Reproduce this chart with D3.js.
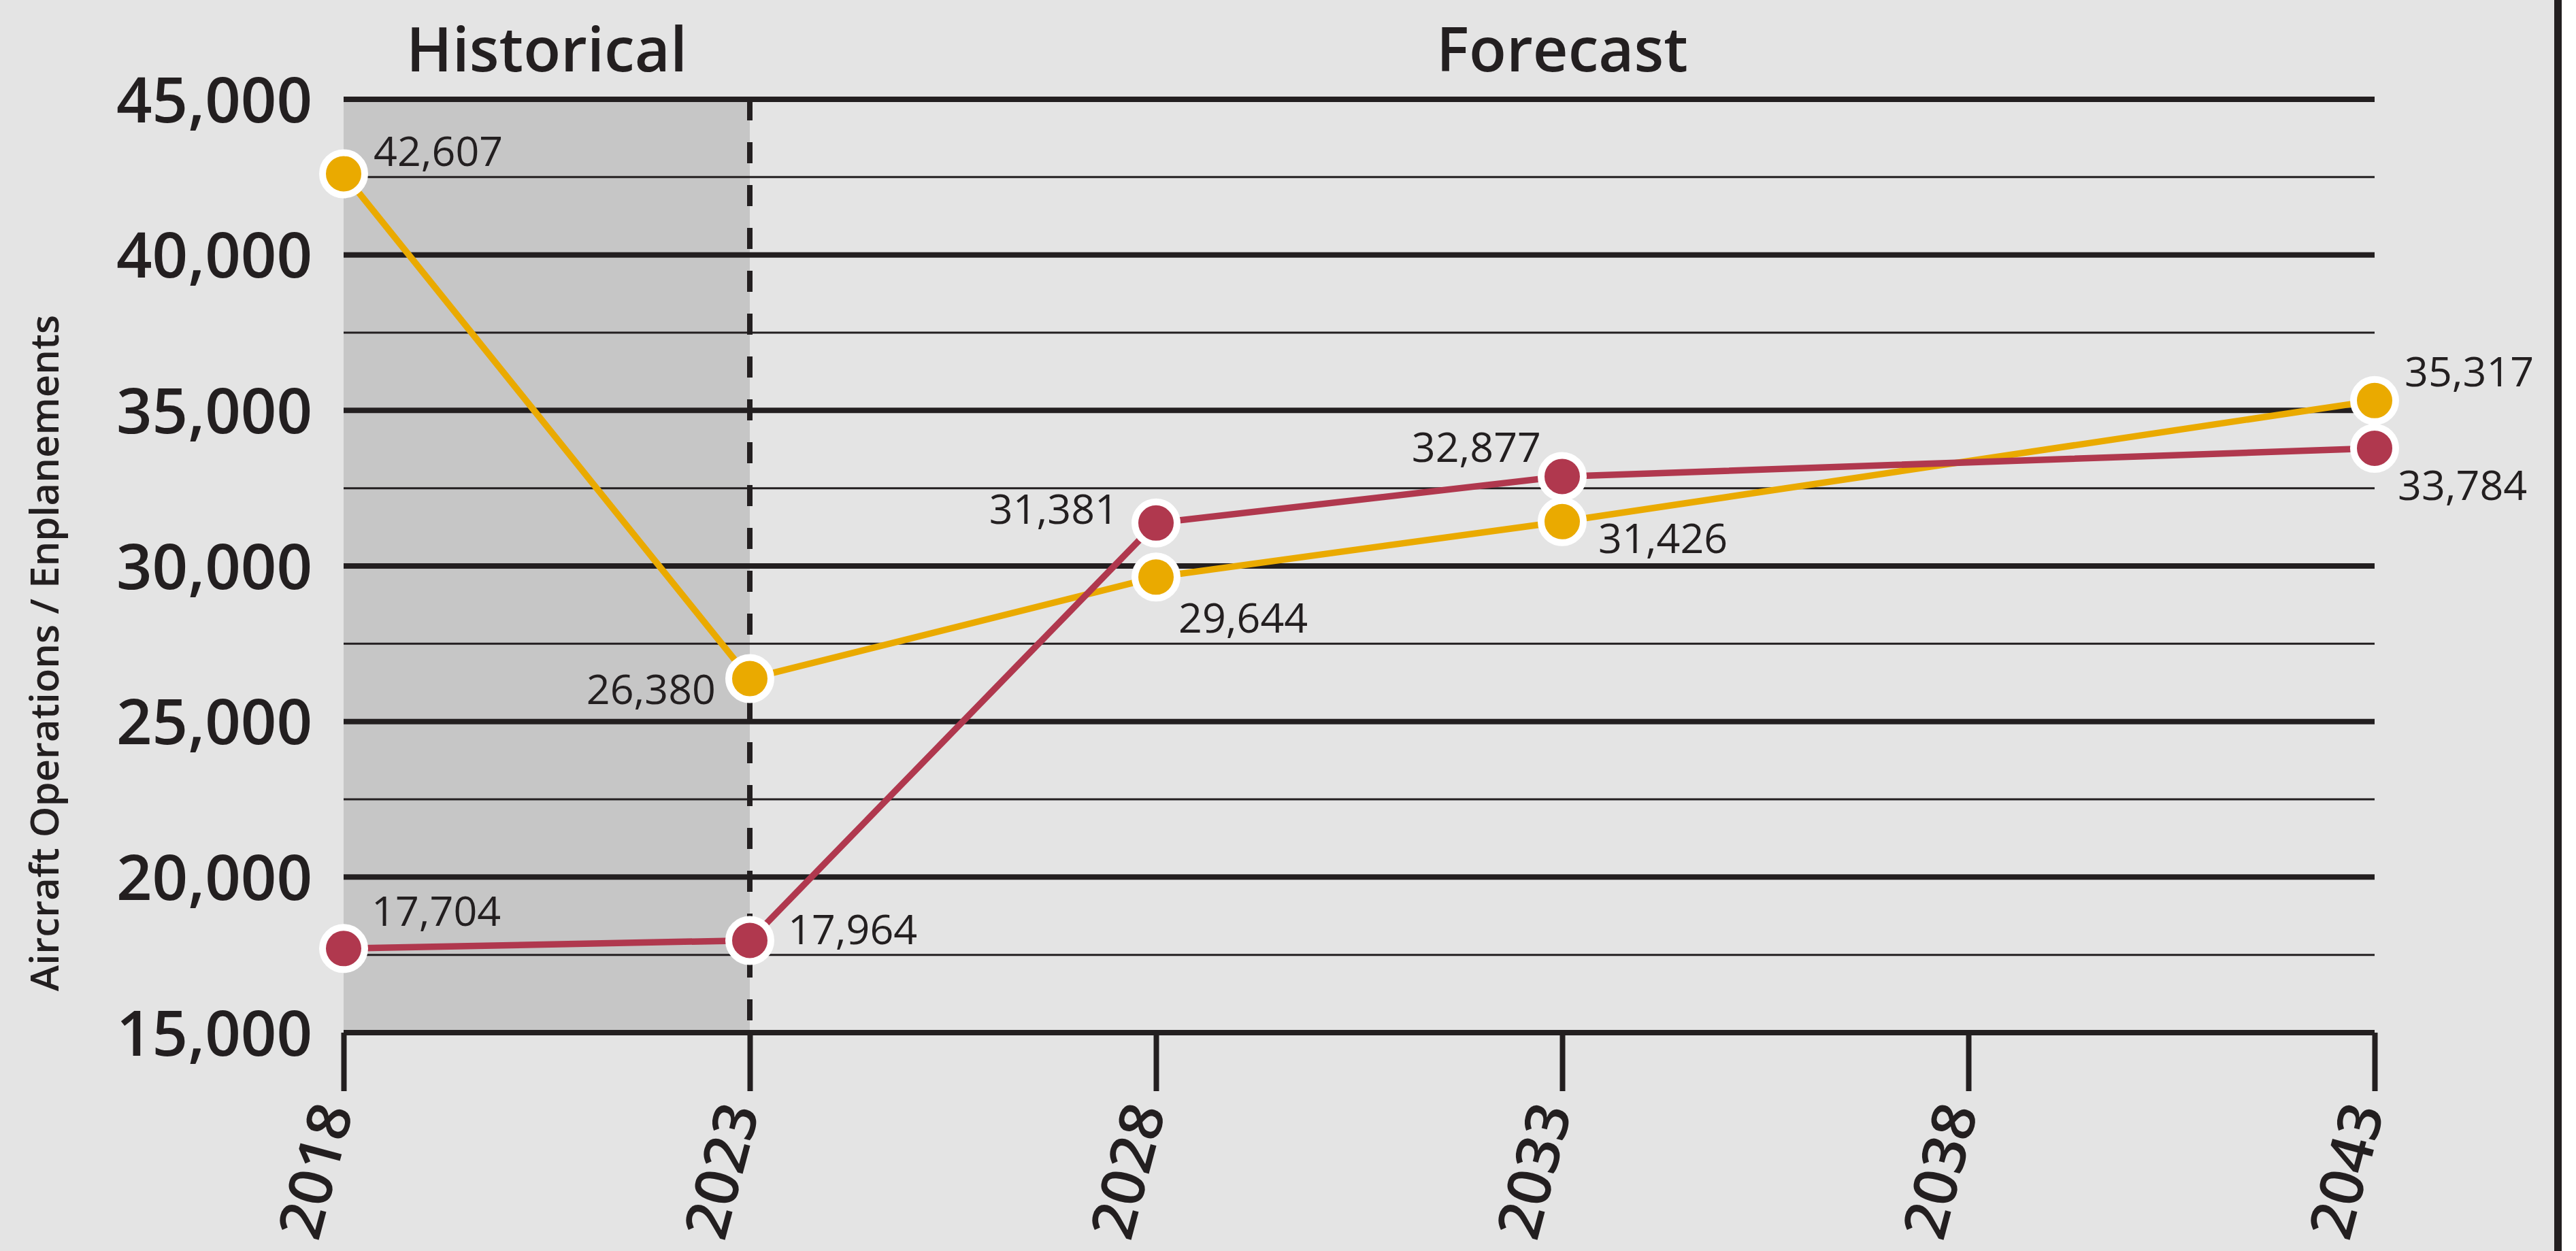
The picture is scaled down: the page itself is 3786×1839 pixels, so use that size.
<!DOCTYPE html>
<html><head><meta charset="utf-8">
<script src="https://cdn.jsdelivr.net/npm/d3@7"></script>
<style>html,body{margin:0;padding:0;background:#e4e4e4;overflow:hidden}</style>
</head><body><svg id="c" width="3786" height="1839"></svg>
<script>
// ---- data ----
const years = [2018, 2023, 2028, 2033, 2043];
const xTicks = [2018, 2023, 2028, 2033, 2038, 2043];
const yTicks = [15000, 20000, 25000, 30000, 35000, 40000, 45000];
const operations = [42607, 26380, 29644, 31426, 35317];
const enplanements = [17704, 17964, 31381, 32877, 33784];
const periodLabels = ["Historical", "Forecast"];
const periodBreak = 2023;
const yTitle = "Aircraft Operations / Enplanements";

// ---- layout / style (not data) ----
const W = 3786, H = 1839;
const INK = "#231f20", YEL = "#eaaa00", RED = "#b0384e";
const FONT = "'Open Sans', 'Noto Sans', sans-serif";
// label placement relative to marker: [dx, dy, anchor]
const opsPlace = [[44,-11,"start"],[-50,37,"end"],[33,82,"start"],[53,46,"start"],[44,-21,"start"]];
const enpPlace = [[41,-33,"start"],[56,6,"start"],[-55,1,"end"],[-31,-21,"end"],[34,76,"start"]];

const svg = d3.select("#c");
const x = d3.scaleLinear().domain([2018, 2043]).range([505, 3490]);
const y = d3.scaleLinear().domain([15000, 45000]).range([1518, 146]);
const fmt = d3.format(",");

svg.append("rect").attr("width", W).attr("height", H).attr("fill", "#e4e4e4");
// historical shading
svg.append("rect").attr("x", x(2018)).attr("y", y(45000))
  .attr("width", x(periodBreak) - x(2018)).attr("height", y(15000) - y(45000))
  .attr("fill", "#c6c6c6");

// gridlines
const gridVals = d3.range(15000, 45001, 2500);
svg.append("g").selectAll("line").data(gridVals).join("line")
  .attr("x1", x(2018)).attr("x2", x(2043))
  .attr("y1", d => y(d)).attr("y2", d => y(d))
  .attr("stroke", INK).attr("stroke-width", d => d % 5000 === 0 ? 8 : 3);

// dashed divider
svg.append("line").attr("x1", x(periodBreak)).attr("x2", x(periodBreak))
  .attr("y1", y(45000)).attr("y2", y(15000))
  .attr("stroke", INK).attr("stroke-width", 8).attr("stroke-dasharray", "31,32");

// y axis labels
const yAxis = svg.append("g").attr("transform", `translate(${x(2018)},0)`)
  .call(d3.axisLeft(y).tickValues(yTicks).tickSize(0).tickPadding(46).tickFormat(fmt));
yAxis.select(".domain").remove();
yAxis.selectAll("text").attr("fill", INK).attr("dy", "0.36em")
  .style("font-family", FONT).style("font-size", "92px").style("font-weight", 600);

// x axis ticks and labels
const xAxis = svg.append("g").attr("transform", `translate(0,${y(15000)})`)
  .call(d3.axisBottom(x).tickValues(xTicks).tickSize(86).tickFormat(d => String(d)));
xAxis.select(".domain").remove();
xAxis.selectAll(".tick line").attr("stroke", INK).attr("stroke-width", 8);
xAxis.selectAll("text").attr("x", 0).attr("y", 0).attr("dy", 0)
  .attr("transform", "translate(14,114) rotate(-75)")
  .attr("text-anchor", "end").attr("fill", INK)
  .style("font-family", FONT).style("font-size", "88px").style("font-weight", 600);

// period titles
const periods = [[2018, periodBreak], [periodBreak, 2043]];
svg.append("g").selectAll("text").data(periodLabels).join("text")
  .attr("x", (d, i) => (x(periods[i][0]) + x(periods[i][1])) / 2)
  .attr("y", 105).attr("text-anchor", "middle").attr("fill", INK)
  .style("font-family", FONT).style("font-size", "90px").style("font-weight", 600)
  .text(d => d);

// y title
svg.append("text").attr("transform", `translate(86,960) rotate(-90)`)
  .attr("text-anchor", "middle").attr("fill", INK)
  .style("font-family", FONT).style("font-size", "58px").style("font-weight", 600)
  .text(yTitle);

// series
const series = [
  { vals: operations, color: YEL, place: opsPlace },
  { vals: enplanements, color: RED, place: enpPlace }
];
const line = d3.line().x(d => x(d[0])).y(d => y(d[1]));
series.forEach(s => {
  const pts = years.map((yr, i) => [yr, s.vals[i]]);
  svg.append("path").datum(pts).attr("d", line)
    .attr("fill", "none").attr("stroke", s.color).attr("stroke-width", 9.5)
    .attr("stroke-linejoin", "round");
});
series.forEach(s => {
  const pts = years.map((yr, i) => [yr, s.vals[i]]);
  svg.append("g").selectAll("circle").data(pts).join("circle")
    .attr("cx", d => x(d[0])).attr("cy", d => y(d[1])).attr("r", 31)
    .attr("fill", s.color).attr("stroke", "#fff").attr("stroke-width", 10);
});
series.forEach(s => {
  const pts = years.map((yr, i) => [yr, s.vals[i]]);
  svg.append("g").selectAll("text").data(pts).join("text")
    .attr("x", (d, i) => x(d[0]) + s.place[i][0])
    .attr("y", (d, i) => y(d[1]) + s.place[i][1])
    .attr("text-anchor", (d, i) => s.place[i][2])
    .attr("fill", INK)
    .style("font-family", FONT).style("font-size", "61px").style("font-weight", 400)
    .text(d => fmt(d[1]));
});

// right border
svg.append("rect").attr("x", 3754).attr("y", 0).attr("width", 11).attr("height", H).attr("fill", INK);
svg.append("rect").attr("x", 3765).attr("y", 0).attr("width", W - 3765).attr("height", H).attr("fill", "#fff");
</script></body></html>
